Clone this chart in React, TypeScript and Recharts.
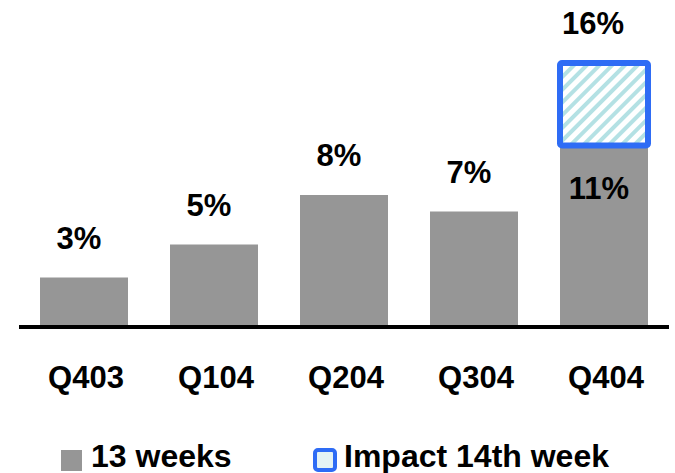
import { BarChart, Bar, XAxis, YAxis, Legend, LabelList } from "recharts";

const quarters = ["Q403", "Q104", "Q204", "Q304", "Q404"];
const weeks13 = [3, 5, 8, 7, 11];
const week14Impact = [0, 0, 0, 0, 5];
const yDomain = [0, 18];

const GREY = "#969696";
const BLUE = "#2E6CF5";
const HATCH = "#B4E1E4";
const FONT = '"Liberation Sans", Arial, sans-serif';

const data = quarters.map((q, i) => ({
  quarter: q,
  base: weeks13[i],
  impact: week14Impact[i] || null,
  total: weeks13[i] + week14Impact[i],
}));

// label above the grey bar, or inside it when a 14th week sits on top
const BaseLabel = (props: any) => {
  const { x, y, width, index } = props;
  const row = data[index];
  const inside = !!row.impact;
  return (
    <text
      x={x + width / 2 - 5}
      y={inside ? y + 53 : y - 29}
      textAnchor="middle"
      fontFamily={FONT}
      fontWeight="bold"
      fontSize={31}
      fill="#000"
    >
      {row.base}%
    </text>
  );
};

const TotalLabel = (props: any) => {
  const { x, y, width, index } = props;
  const row = data[index];
  if (!row.impact) return null;
  return (
    <text
      x={x + width / 2 - 11}
      y={y - 29}
      textAnchor="middle"
      fontFamily={FONT}
      fontWeight="bold"
      fontSize={31}
      fill="#000"
    >
      {row.total}%
    </text>
  );
};

const HatchBox = (props: any) => {
  const { x, y, width, height } = props;
  if (!height) return null;
  return (
    <rect
      x={x}
      y={y}
      width={width}
      height={height}
      rx={2}
      fill="url(#hatch14)"
      stroke={BLUE}
      strokeWidth={6}
      strokeLinejoin="round"
    />
  );
};

const QuarterTick = (props: any) => {
  const { x, y, payload } = props;
  return (
    <text
      x={x + 2}
      y={y + 53}
      textAnchor="middle"
      fontFamily={FONT}
      fontWeight="bold"
      fontSize={31}
      fill="#000"
    >
      {payload.value}
    </text>
  );
};

const legendText: React.CSSProperties = {
  position: "absolute",
  top: 7,
  fontFamily: FONT,
  fontWeight: "bold",
  fontSize: 32,
  lineHeight: "32px",
  color: "#000",
  whiteSpace: "nowrap",
};

const ChartLegend = () => (
  <div style={{ position: "relative", width: 675, height: 40 }}>
    <div
      style={{
        position: "absolute",
        left: 61,
        top: 17,
        width: 21,
        height: 21,
        background: GREY,
      }}
    />
    <span style={{ ...legendText, left: 91 }}>13 weeks</span>
    <svg
      width={24}
      height={24}
      style={{ position: "absolute", left: 313, top: 15 }}
    >
      <rect
        x={2}
        y={2}
        width={20}
        height={20}
        rx={3}
        fill="#E4F3F4"
        stroke={BLUE}
        strokeWidth={4}
      />
    </svg>
    <span style={{ ...legendText, left: 344 }}>Impact 14th week</span>
  </div>
);

export default function App() {
  return (
    <div style={{ position: "absolute", left: 0, top: 0, background: "#fff" }}>
      <BarChart
        width={675}
        height={473}
        data={data}
        margin={{ top: 30, right: 6, bottom: 0, left: 19 }}
        barSize={88}
      >
        <defs>
          <pattern
            id="hatch14"
            width={9}
            height={9}
            patternUnits="userSpaceOnUse"
            patternTransform="rotate(45)"
          >
            <rect width={9} height={9} fill="#fff" />
            <rect width={4} height={9} fill={HATCH} />
          </pattern>
        </defs>
        <YAxis hide domain={yDomain} />
        <XAxis
          dataKey="quarter"
          height={106}
          axisLine={{ stroke: "#000", strokeWidth: 4 }}
          tickLine={false}
          tick={<QuarterTick />}
          interval={0}
        />
        <Legend
          verticalAlign="bottom"
          wrapperStyle={{ left: 0, width: 675 }}
          content={() => <ChartLegend />}
        />
        <Bar dataKey="base" stackId="s" fill={GREY} isAnimationActive={false}>
          <LabelList dataKey="base" content={<BaseLabel />} />
        </Bar>
        <Bar
          dataKey="impact"
          stackId="s"
          shape={<HatchBox />}
          isAnimationActive={false}
        >
          <LabelList dataKey="total" content={<TotalLabel />} />
        </Bar>
      </BarChart>
    </div>
  );
}
